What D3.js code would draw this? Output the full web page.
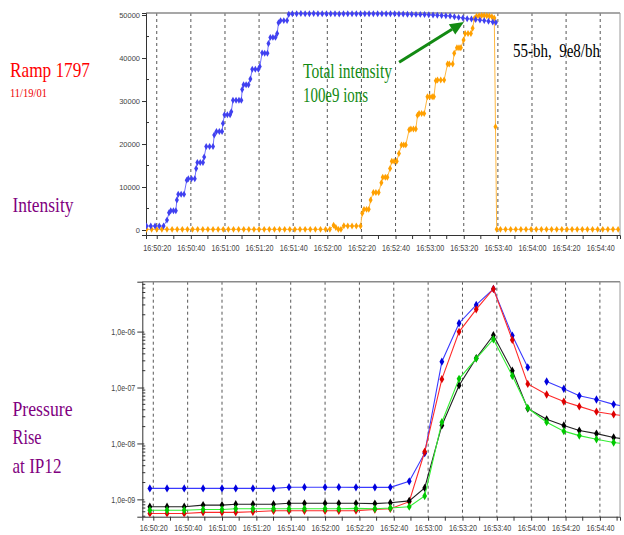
<!DOCTYPE html>
<html><head><meta charset="utf-8">
<script src="https://cdn.jsdelivr.net/npm/d3@7"></script>
<style>body{margin:0;background:#fff}svg{display:block}</style>
</head><body><svg id="c" width="624" height="535"></svg>
<script>
// ---------- DATA (times in seconds after 16:50:00, 11/19/01) ----------
const timeTickLabels = ["16:50:20","16:50:40","16:51:00","16:51:20","16:51:40","16:52:00","16:52:20","16:52:40","16:53:00","16:53:20","16:53:40","16:54:00","16:54:20","16:54:40"];
const intensityTicks = [0,10000,20000,30000,40000,50000];
const pressureTicks = [1e-9,1e-8,1e-7,1e-6];
const pressureTickLabels = ["1,0e-09","1,0e-08","1,0e-07","1,0e-06"];

const intensityBlue = [
[14,930],[16.5,930],[19,930],[21.5,930],[24,930],[26,2300],[27.2,4000],[28.2,4500],[29.8,4500],[31.2,4500],
[31.8,7000],[32.6,8300],[34.3,8300],[36,8300],[37.6,11600],[38.5,11900],[40.4,11900],[42.3,11900],[43.1,14300],[43.8,15700],
[45.5,15700],[47.1,15700],[47.8,17000],[49,19400],[51,19400],[53,19400],[53.7,22100],[55,22900],[56.7,22900],[58.3,22900],
[58.8,24800],[59.7,26800],[61.4,26800],[63,26800],[63.7,27500],[64.7,30200],[66.5,30200],[68.2,30200],[69.6,30200],[70.1,32700],
[70.9,33800],[72.4,33800],[73.8,33800],[74.9,35100],[76,37400],[77.8,37400],[79.6,37400],[80.4,38000],[81.8,41200],[83.3,41100],
[84.9,41100],[85.5,43400],[86.6,44800],[88.1,44800],[89.6,44800],[90.6,45700],[91.4,48200],[92.6,48700],[94.5,48700],[96.4,48700],
[97.4,50200],[99.5,50300],[102,50300],[104.5,50350],[107,50300],[109.5,50300],[112,50350],[114.5,50300],[117,50300],[119.5,50300],
[122,50300],[124.5,50300],[127,50250],[129.5,50300],[132,50300],[134.5,50300],[137,50300],[139.5,50300],[142,50300],[144.5,50300],
[147,50300],[149.5,50300],[152,50300],[154.5,50300],[157,50300],[159.5,50300],[162,50250],[164.5,50250],[167,50200],[169.5,50200],
[172,50150],[174.5,50150],[177,50100],[179.5,50050],[182,50000],[184.5,49950],[187,49900],[189.5,49850],[192,49750],[194.5,49600],
[197,49450],[199.5,49300],[202,49150],[204.5,49050],[207,48950],[209.5,48850],[212,48700],[214.5,48550],[217,48400],[218.8,48250]
];

const intensityOrange = [
[14,150],[17,150],[20,150],[23,150],[26,150],[29,150],[32,150],[35,150],[38,150],[41,150],
[44,150],[47,150],[50,150],[53,150],[56,150],[59,150],[62,150],[65,150],[68,150],[71,150],
[74,150],[77,150],[80,150],[83,150],[86,150],[89,150],[92,150],[95,150],[98,150],[101,150],
[104,150],[107,150],[110,150],[113,150],[116,150],[119,150],[121.5,150],[123.7,1100],[125,600],[126.5,150],
[128,150],[129.7,1000],[132,950],[134.5,950],[137,950],[139.5,950],[140.5,3900],[141.5,4800],[143,4800],[144.3,4800],
[145.4,7000],[147,8700],[148.5,8700],[150.1,8700],[151.7,11000],[152.5,12250],[154,12250],[155.2,12250],[156.8,14300],[157.8,16000],
[159.2,16000],[160.7,16000],[162,17800],[163.5,19800],[164.8,19800],[166,19800],[168,23300],[169,23500],[170.5,23500],[171.9,23500],
[172.9,26700],[173.8,27100],[175.3,27100],[176.8,27100],[178.7,31000],[180,31000],[181.5,31000],[182.5,31000],[183.6,34700],[184.6,34900],
[186.5,34900],[188.5,34900],[190.5,38600],[191.5,38600],[193.5,38600],[194.4,41100],[196,42400],[197.2,42400],[198.3,42400],[199.9,44200],
[200.8,45700],[202.5,45700],[204.2,45700],[205.2,46900],[206.2,49200],[207.5,49700],[209,49850],[210.5,49900],[212,49900],[213.5,49850],
[215,49750],[216.5,49600],[217.9,49300],[218.6,24000],[219.3,150],[221.5,150],[224.5,150],[227.5,150],[230.5,150],[233.5,150],
[236.5,150],[239.5,150],[242.5,150],[245.5,150],[248.5,150],[251.5,150],[254.5,150],[257.5,150],[260.5,150],[263.5,150],
[266.5,150],[269.5,150],[272.5,150],[275.5,150],[278.5,150],[281.5,150],[284.5,150],[287.5,150],[290.5,150]
];

const pressureTimes = [18,28,38,49,60,68,78,90,99,108,120,128,138,149,158,169,178,188,198,208,218,229,238,249,259,268,278,288,298];
const pressureBlue  = [1.57e-9,1.57e-9,1.57e-9,1.57e-9,1.57e-9,1.57e-9,1.57e-9,1.57e-9,1.65e-9,1.65e-9,1.65e-9,1.65e-9,1.64e-9,1.64e-9,1.64e-9,2.1e-9,6.7e-9,2.9e-7,1.41e-6,3.0e-6,5.8e-6,8.5e-7,2.3e-7,1.28e-7,9.5e-8,7.1e-8,6.1e-8,5.0e-8,4.4e-8];
const pressureBlueGapAfter = 238;   // blue trace is not connected between 16:53:58 and 16:54:09
const pressureRed   = [5.6e-10,5.6e-10,5.6e-10,5.86e-10,5.86e-10,5.86e-10,6.0e-10,6.26e-10,6.26e-10,6.26e-10,6.26e-10,6.26e-10,6.3e-10,6.6e-10,6.8e-10,9.1e-10,7.1e-9,1.41e-7,9.9e-7,2.5e-6,5.8e-6,7.1e-7,1.16e-7,7.5e-8,5.6e-8,4.6e-8,3.7e-8,3.3e-8,3.0e-8];
const pressureBlack = [7.4e-10,7.4e-10,7.4e-10,7.9e-10,7.9e-10,8.2e-10,8.2e-10,8.2e-10,8.5e-10,8.5e-10,8.5e-10,8.5e-10,8.5e-10,8.4e-10,8.7e-10,9.4e-10,1.6e-9,2.1e-8,1.09e-7,3.35e-7,8.6e-7,2.0e-7,4.2e-8,2.7e-8,2.1e-8,1.7e-8,1.5e-8,1.28e-8,1.15e-8];
const pressureGreen = [6.4e-10,6.4e-10,6.4e-10,6.6e-10,6.6e-10,6.8e-10,6.8e-10,6.8e-10,6.8e-10,6.8e-10,6.8e-10,6.8e-10,6.9e-10,6.8e-10,7.0e-10,7.4e-10,1.15e-9,2.4e-8,1.43e-7,3.3e-7,7.3e-7,1.62e-7,4.3e-8,2.4e-8,1.66e-8,1.38e-8,1.19e-8,1.04e-8,9.5e-9];

// ---------- helpers ----------
const base = new Date(2001,10,19,16,50,0).getTime();
const T = s => new Date(base + s*1000);
const parseTick = d3.timeParse("%Y-%m-%d %H:%M:%S");
const tickDates = timeTickLabels.map(l => parseTick("2001-11-19 " + l));
const minorDates = d3.range(10, 300, 10).map(T).filter(d => (d - base) % 20000 !== 0);
const tickFont = "'Liberation Sans Narrow', 'Liberation Sans', Arial, sans-serif";

const svg = d3.select("#c");
svg.append("rect").attr("width",624).attr("height",535).attr("fill","#fff");

function frame(g, x, L, R, Tp, B) {
  g.append("g").selectAll("line").data(tickDates).join("line")
    .attr("x1", d => x(d)).attr("x2", d => x(d)).attr("y1", Tp).attr("y2", B)
    .attr("stroke", "#444").attr("stroke-width", 0.9).attr("stroke-dasharray", "3,3");
  g.append("line").attr("x1", L).attr("x2", R).attr("y1", Tp).attr("y2", Tp).attr("stroke", "#8a8a8a").attr("stroke-width", 1.5);
  g.append("line").attr("x1", R).attr("x2", R).attr("y1", Tp).attr("y2", B).attr("stroke", "#9a9a9a").attr("stroke-width", 1);
}

function xAxis(g, x, B, labelY) {
  const ax = g.append("g").attr("transform", `translate(0,${B})`)
    .call(d3.axisBottom(x).tickValues(tickDates).tickSize(4).tickPadding(6)
      .tickFormat((d,i) => timeTickLabels[i]));
  ax.select(".domain").attr("stroke", "#333");
  ax.selectAll(".tick line").attr("stroke", "#333");
  ax.selectAll(".tick text").attr("font-family", tickFont)
    .attr("font-size", 9).attr("fill", "#444").attr("y", labelY).attr("dy", "0")
    .attr("textLength", 28).attr("lengthAdjust", "spacingAndGlyphs");
  g.append("g").selectAll("line").data(minorDates.filter(d => d >= x.domain()[0] && d <= x.domain()[1])).join("line")
    .attr("x1", d => x(d)).attr("x2", d => x(d)).attr("y1", B).attr("y2", B + 4).attr("stroke", "#333");
}

// ---------- TOP: intensity ----------
const tL = 146, tR = 620, tT = 13, tB = 235;
const xt = d3.scaleTime().domain([T(13.7), T(291.6)]).range([tL, tR]);
const yt = d3.scaleLinear().domain([-1160, 50470]).range([tB, tT]);
const topG = svg.append("g");
frame(topG, xt, tL, tR, tT, tB);
xAxis(topG, xt, tB, 16);
const yaxT = topG.append("g").attr("transform", `translate(${tL},0)`)
  .call(d3.axisLeft(yt).tickValues(intensityTicks).tickSize(4).tickPadding(2).tickFormat(d3.format("d")));
yaxT.select(".domain").attr("stroke", "#333");
yaxT.selectAll(".tick line").attr("stroke", "#333");
yaxT.selectAll(".tick text").attr("font-family", "'Liberation Sans', Arial, sans-serif").attr("font-size", 7.5).attr("fill", "#444");
topG.append("g").selectAll("line").data(d3.range(5000, 50000, 10000)).join("line")
  .attr("x1", tL).attr("x2", tL + 3).attr("y1", d => yt(d)).attr("y2", d => yt(d)).attr("stroke", "#333");

topG.append("clipPath").attr("id", "clipT").append("rect").attr("x", tL).attr("y", tT - 4).attr("width", tR - tL).attr("height", tB - tT + 4);
const lineT = d3.line().x(d => xt(T(d[0]))).y(d => yt(d[1]));
const plotT = topG.append("g").attr("clip-path", "url(#clipT)");
function drawIntensity(data, lc, mc) {
  plotT.append("path").datum(data).attr("d", lineT).attr("fill", "none").attr("stroke", lc).attr("stroke-width", 1);
  plotT.append("g").selectAll("path").data(data).join("path")
    .attr("d", d3.symbol(d3.symbolDiamond, 14)).attr("transform", d => `translate(${xt(T(d[0]))},${yt(d[1])})`).attr("fill", mc);
}
drawIntensity(intensityOrange, "#ffb840", "#ffa000");
drawIntensity(intensityBlue, "#7070ff", "#4040f0");

// annotations
const serif = "'Liberation Serif', 'Times New Roman', serif";
function txt(x, y, s, size, color, len) {
  svg.append("text").attr("x", x).attr("y", y).text(s).attr("font-family", serif).attr("font-size", size)
    .attr("fill", color).attr("textLength", len).attr("lengthAdjust", "spacingAndGlyphs").style("white-space", "pre");
}
txt(10, 77, "Ramp 1797", 22, "#ff0000", 80);
txt(10, 97, "11/19/01", 12, "#ee0000", 37);
txt(12.5, 211.5, "Intensity", 22, "#800080", 61);
txt(12.5, 416, "Pressure", 22, "#800080", 60);
txt(12.5, 444, "Rise", 22, "#800080", 29);
txt(12.5, 472.5, "at IP12", 22, "#800080", 49);
txt(303, 78, "Total intensity", 20, "#138a13", 89);
txt(303, 102, "100e9 ions", 20, "#138a13", 65);
txt(513, 56.5, "55-bh,  9e8/bh", 19, "#000", 87);

// arrow
const ax0 = xt(T(162.1)), ay0 = yt(39000), ax1 = xt(T(200.1)), ay1 = yt(48400);
const ang = Math.atan2(ay1 - ay0, ax1 - ax0), hl = 14, hw = 6;
const bx = ax1 - hl * Math.cos(ang), by = ay1 - hl * Math.sin(ang);
svg.append("line").attr("x1", ax0).attr("y1", ay0).attr("x2", bx).attr("y2", by).attr("stroke", "#138a13").attr("stroke-width", 3);
svg.append("path").attr("d", `M${ax1},${ay1}L${bx + hw*Math.sin(ang)},${by - hw*Math.cos(ang)}L${bx - hw*Math.sin(ang)},${by + hw*Math.cos(ang)}Z`).attr("fill", "#138a13");

// ---------- BOTTOM: pressure ----------
const bL = 142.3, bR = 620, bT = 281.7, bB = 516.7;
const xb = d3.scaleTime().domain([T(13.6), T(291.7)]).range([bL, bR]);
const yb = d3.scaleLog().domain([4.9e-10, 7.8e-6]).range([bB, bT]);
const botG = svg.append("g");
frame(botG, xb, bL, bR, bT, bB);
xAxis(botG, xb, bB, 14);
const yaxB = botG.append("g").attr("transform", `translate(${bL},0)`)
  .call(d3.axisLeft(yb).tickValues(pressureTicks).tickSize(5).tickPadding(2).tickFormat((d,i) => pressureTickLabels[i]));
yaxB.select(".domain").attr("stroke", "#333");
yaxB.selectAll(".tick line").attr("stroke", "#333").attr("x2", 2).attr("x1", -5);
yaxB.selectAll(".tick text").attr("font-family", tickFont).attr("font-size", 8.5)
  .attr("fill", "#444").attr("textLength", 24).attr("lengthAdjust", "spacingAndGlyphs");
const minorLog = [];
[-10,-9,-8,-7,-6,-5].forEach(e => { for (let m = 2; m <= 9; m++) { const v = m * Math.pow(10, e); if (v > yb.domain()[0] && v < yb.domain()[1]) minorLog.push(v); } });
botG.append("g").selectAll("line").data(minorLog).join("line")
  .attr("x1", bL).attr("x2", bL + 3).attr("y1", d => yb(d)).attr("y2", d => yb(d)).attr("stroke", "#333");

botG.append("clipPath").attr("id", "clipB").append("rect").attr("x", bL).attr("y", bT - 4).attr("width", bR - bL).attr("height", bB - bT + 4);
const plotB = botG.append("g").attr("clip-path", "url(#clipB)");
function drawPressure(vals, lc, mc, gapAfter) {
  const data = pressureTimes.map((t, i) => [t, vals[i]]);
  const segs = gapAfter == null ? [data] : [data.filter(d => d[0] <= gapAfter), data.filter(d => d[0] > gapAfter)];
  const ln = d3.line().x(d => xb(T(d[0]))).y(d => yb(d[1]));
  segs.forEach(s => plotB.append("path").datum(s).attr("d", ln).attr("fill", "none").attr("stroke", lc).attr("stroke-width", 1.1));
  plotB.append("g").selectAll("path").data(data).join("path")
    .attr("d", d3.symbol(d3.symbolDiamond, 20)).attr("transform", d => `translate(${xb(T(d[0]))},${yb(d[1])})`).attr("fill", mc);
}
drawPressure(pressureBlue, "#3a3aff", "#0000dd", pressureBlueGapAfter);
drawPressure(pressureRed, "#ff2a2a", "#dd0000");
drawPressure(pressureBlack, "#222", "#000");
drawPressure(pressureGreen, "#33ee33", "#00c800");
</script></body></html>
